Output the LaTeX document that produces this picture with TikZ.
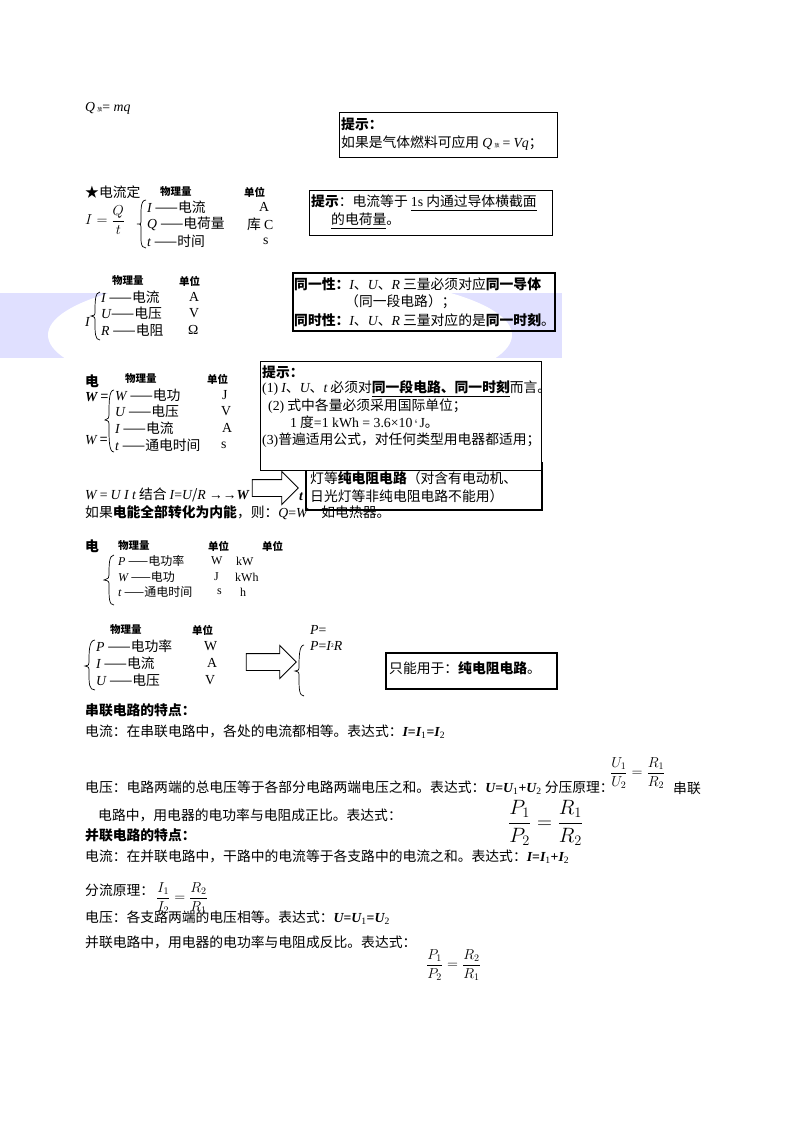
\documentclass[tikz,border=0pt]{standalone}
\usepackage{amsmath}
\usepackage{fontspec}
\setmainfont{Noto Sans CJK SC}
\newfontfamily\tn{Liberation Serif}
\usetikzlibrary{shapes.arrows}
\newcommand\iv[1]{{\tn\itshape #1}}
\newcommand\rv[1]{{\tn #1}}
\newcommand\ib[1]{{\tn\itshape\bfseries #1}}
\tikzset{txt/.style={anchor=west,inner sep=0pt,font=\fontsize{13.8}{15}\selectfont},
 btxt/.style={txt,font=\fontsize{13.8}{15}\bfseries\selectfont},
 stxt/.style={txt,font=\fontsize{12}{14}\selectfont},
 hd/.style={anchor=west,inner sep=0pt,font=\fontsize{10.5}{12}\bfseries\selectfont},
 thinbox/.style={draw,line width=0.9pt},
 thickbox/.style={draw,line width=2pt},
 brc/.style={line width=0.7pt},
 harrow/.style={draw,single arrow,minimum height=46pt,inner xsep=0pt,inner ysep=8pt,single arrow head extend=8pt,line width=0.9pt,fill=white}}
\begin{document}
\begin{tikzpicture}[x=1pt,y=-1pt]
\useasboundingbox (0,0) rectangle (800,1132);
\fill[white] (0,0) rectangle (800,1132);
% blue background band
\fill[blue!12] (0,293) rectangle (562,358);
\fill[white] (280,335) ellipse (232 and 62);
\fill[white] (0,358) rectangle (562,380);
% line 1
\node[txt] (q1) at (85,108) {\iv{Q}\,{\tiny 放}\rv{= }\iv{mq}};
\node[thinbox,minimum width=218pt,minimum height=45pt,anchor=north west] (b1) at (339,112) {};
\node[btxt] (b1a) at (341,124) {提示：};
\node[txt] (b1b) at (341,143) {如果是气体燃料可应用 \iv{Q}\,{\tiny 放} \rv{=} \iv{Vq}；};
% section 2
\node[txt] (s2) at (85,192) {★电流定};
\node[hd] (s2h1) at (160,192) {物理量};
\node[hd] (s2h2) at (244,192) {单位};
\node[txt,font=\fontsize{15}{17}\selectfont] (s2f) at (85,220) {$I=\dfrac{Q}{t}$};
\draw[brc] (146,200) .. controls (140,200) and (141,212) .. (141,222) .. controls (141,224) .. (137,224) .. controls (141,224) .. (141,230) .. controls (141,240) and (140,248) .. (146,248);
\node[txt] (s2a) at (147,207) {\iv{I} ——电流};
\node[txt] (s2b) at (147,224) {\iv{Q} ——电荷量};
\node[txt] (s2c) at (147,241) {\iv{t} ——时间};
\node[txt] (s2au) at (259,207) {\rv{A}};
\node[txt] (s2bu) at (247,224) {库 \rv{C}};
\node[txt] (s2cu) at (263,241) {\rv{s}};
\node[thinbox,line width=1.2pt,minimum width=243pt,minimum height=45pt,anchor=north west] (b2) at (309,190) {};
\node[txt] (b2a) at (311,203) {\textbf{提示}：电流等于 \underline{\rv{1s} 内通过导体横截面}};
\node[txt] (b2b) at (331,221) {\underline{的电荷量}。};
% section 3
\node[hd] (s3h1) at (112,281) {物理量};
\node[hd] (s3h2) at (179,281) {单位};
\node[txt] (s3i) at (85,322) {\iv{I}};
\draw[brc] (100,292) .. controls (95,292) and (95,302) .. (95,313) .. controls (95,315) .. (91,316) .. controls (95,317) .. (95,322) .. controls (95,333) and (95,340) .. (100,340);
\node[txt] (s3a) at (101,297) {\iv{I} ——电流};
\node[txt] (s3b) at (101,313) {\iv{U}——电压};
\node[txt] (s3c) at (101,330) {\iv{R} ——电阻};
\node[txt] (s3au) at (189,297) {\rv{A}};
\node[txt] (s3bu) at (189,313) {\rv{V}};
\node[txt] (s3cu) at (188,330) {\rv{Ω}};
\node[thickbox,minimum width=262pt,minimum height=58pt,anchor=north west] (b3) at (292,272) {};
\node[txt] (b3a) at (294,284) {\textbf{同一性：}\iv{I}、\iv{U}、\iv{R} 三量必须对应\textbf{同一导体}};
\node[txt] (b3b) at (345,302) {（同一段电路）；};
\node[txt] (b3c) at (294,320) {\textbf{同时性：}\iv{I}、\iv{U}、\iv{R} 三量对应的是\textbf{同一时刻}。};
% section 4
\node[btxt] (s4) at (85,381) {电};
\node[hd] (s4h1) at (125,379) {物理量};
\node[hd] (s4h2) at (207,379) {单位};
\node[txt] (s4w1) at (85,397) {\ib{W} ={}};
\node[txt] (s4w2) at (85,440) {\iv{W} =};
\draw[brc] (114,390) .. controls (109,390) and (109,402) .. (109,415) .. controls (109,418) .. (105,420) .. controls (109,421) .. (109,427) .. controls (109,440) and (109,452) .. (114,452);
\node[txt] (s4a) at (115,395) {\iv{W} ——电功};
\node[txt] (s4b) at (115,411) {\iv{U} ——电压};
\node[txt] (s4c) at (115,428) {\iv{I} ——电流};
\node[txt] (s4d) at (115,445) {\iv{t} ——通电时间};
\node[txt] (s4au) at (222,395) {\rv{J}};
\node[txt] (s4bu) at (221,411) {\rv{V}};
\node[txt] (s4cu) at (222,428) {\rv{A}};
\node[txt] (s4du) at (221,445) {\rv{s}};
% second thick box (behind)
\node[thickbox,minimum width=236pt,minimum height=47pt,anchor=north west] (b5) at (305,462) {};
\node[txt] (b5a) at (310,478) {灯等\textbf{纯电阻电路}（对含有电动机、};
\node[txt] (b5b) at (310,496) {日光灯等非纯电阻电路不能用）};
\node[txt] (s4e) at (85,495) {\iv{W} \rv{=} \iv{U I t} 结合 \iv{I}\rv{=}\iv{U}/\iv{R} \rv{→→}\ib{W} \rv{=}};
\node[harrow] (ar1) at (271,488) {};
\node[txt] (s4t) at (299,497) {\ib{t}};
% tip box on top
\node[thinbox,fill=white,minimum width=281pt,minimum height=109pt,anchor=north west] (b4) at (260,361) {};
\node[btxt] (b4a) at (262,372) {提示：};
\node[txt] (b4b) at (262,389) {\rv{(1)} \iv{I}、\iv{U}、\iv{t} 必须对\underline{\textbf{同一段电路、同一时刻}}而言。};
\node[txt] (b4c) at (268,406) {\rv{(2)} 式中各量必须采用国际单位；};
\node[txt] (b4d) at (290,422) {\rv{1} 度\rv{=1 kWh = 3.6×10}\,\raisebox{4pt}{\tiny\rv{6}}\,\rv{J}。};
\node[txt] (b4e) at (262,440) {\rv{(3)}普遍适用公式，对任何类型用电器都适用；};
\node[txt] (s4f) at (85,513) {如果\textbf{电能全部转化为内能}，则：\iv{Q}\rv{=}\iv{W}\quad 如电热器。};
% section 5
\node[btxt] (s5) at (85,546) {电};
\node[hd] (s5h1) at (118,546) {物理量};
\node[hd] (s5h2) at (208,546) {单位};
\node[hd] (s5h3) at (262,546) {单位};
\draw[brc] (114,555) .. controls (109,555) and (109,565) .. (109,575) .. controls (109,578) .. (104,580) .. controls (109,581) .. (109,586) .. controls (109,598) and (109,605) .. (114,605);
\node[stxt] (s5a) at (118,561) {\iv{P} ——电功率};
\node[stxt] (s5b) at (118,577) {\iv{W} ——电功};
\node[stxt] (s5c) at (118,592) {\iv{t} ——通电时间};
\node[stxt] (s5au) at (211,561) {\rv{W}};
\node[stxt] (s5au2) at (236,561) {\rv{kW}};
\node[stxt] (s5bu) at (214,577) {\rv{J}};
\node[stxt] (s5bu2) at (235,577) {\rv{kWh}};
\node[stxt] (s5cu) at (217,592) {\rv{s}};
\node[stxt] (s5cu2) at (240,592) {\rv{h}};
% section 6
\node[hd] (s6h1) at (110,630) {物理量};
\node[hd] (s6h2) at (192,630) {单位};
\draw[brc] (95,640) .. controls (89,640) and (89,652) .. (89,662) .. controls (89,665) .. (85,666) .. controls (89,667) .. (89,672) .. controls (89,684) and (89,690) .. (95,690);
\node[txt] (s6a) at (96,646) {\iv{P} ——电功率};
\node[txt] (s6b) at (96,663) {\iv{I} ——电流};
\node[txt] (s6c) at (96,680) {\iv{U} ——电压};
\node[txt] (s6au) at (204,646) {\rv{W}};
\node[txt] (s6bu) at (207,663) {\rv{A}};
\node[txt] (s6cu) at (205,680) {\rv{V}};
\node[harrow,minimum height=50pt] (ar2) at (267,662) {};
\draw[brc] (304,645) .. controls (299,645) and (299,658) .. (299,668) .. controls (299,670) .. (295,671) .. controls (299,672) .. (299,677) .. controls (299,688) and (299,696) .. (304,696);
\node[txt] (s6p1) at (310,630) {\iv{P}\rv{=}};
\node[txt] (s6p2) at (310,646) {\iv{P}\rv{=}\iv{I}\raisebox{3pt}{\tiny 2}\iv{R}};
\node[thickbox,minimum width=171pt,minimum height=36pt,anchor=north west] (b6) at (385,652) {};
\node[txt] (b6a) at (389,668) {只能用于：\textbf{纯电阻电路}。};
% series
\node[btxt] (se) at (85,710) {串联电路的特点：};
\node[txt] (se1) at (85,732) {电流：在串联电路中，各处的电流都相等。表达式：\ib{I}\rv{\bfseries=}\ib{I}\textsubscript{\rv{1}}\rv{\bfseries=}\ib{I}\textsubscript{\rv{2}}};
\node[txt] (se2) at (85,788) {电压：电路两端的总电压等于各部分电路两端电压之和。表达式：\ib{U}\rv{\bfseries=}\ib{U}\textsubscript{\rv{1}}\rv{\bfseries+}\ib{U}\textsubscript{\rv{2}} 分压原理：};
\node[txt,font=\fontsize{14}{16}\selectfont] (se2f) at (610,773) {$\dfrac{U_1}{U_2}=\dfrac{R_1}{R_2}$};
\node[txt] (se2e) at (673,788) {串联};
\node[txt] (se3) at (98,815) {电路中，用电器的电功率与电阻成正比。表达式：};
\node[txt,font=\fontsize{21}{24}\selectfont] (se3f) at (508,823) {$\dfrac{P_1}{P_2}=\dfrac{R_1}{R_2}$};
% parallel
\node[btxt] (pa) at (85,835) {并联电路的特点：};
\node[txt] (pa1) at (85,857) {电流：在并联电路中，干路中的电流等于各支路中的电流之和。表达式：\ib{I}\rv{\bfseries=}\ib{I}\textsubscript{\rv{1}}\rv{\bfseries+}\ib{I}\textsubscript{\rv{2}}};
\node[txt] (pa2) at (85,890) {分流原理：};
\node[txt,font=\fontsize{14}{16}\selectfont] (pa2f) at (156,898) {$\dfrac{I_1}{I_2}=\dfrac{R_2}{R_1}$};
\node[txt] (pa3) at (85,918) {电压：各支路两端的电压相等。表达式：\ib{U}\rv{\bfseries=}\ib{U}\textsubscript{\rv{1}}\rv{\bfseries=}\ib{U}\textsubscript{\rv{2}}};
\node[txt] (pa4) at (85,942) {并联电路中，用电器的电功率与电阻成反比。表达式：};
\node[txt,font=\fontsize{14}{16}\selectfont] (pa4f) at (426,965) {$\dfrac{P_1}{P_2}=\dfrac{R_2}{R_1}$};
\end{tikzpicture}
\end{document}
